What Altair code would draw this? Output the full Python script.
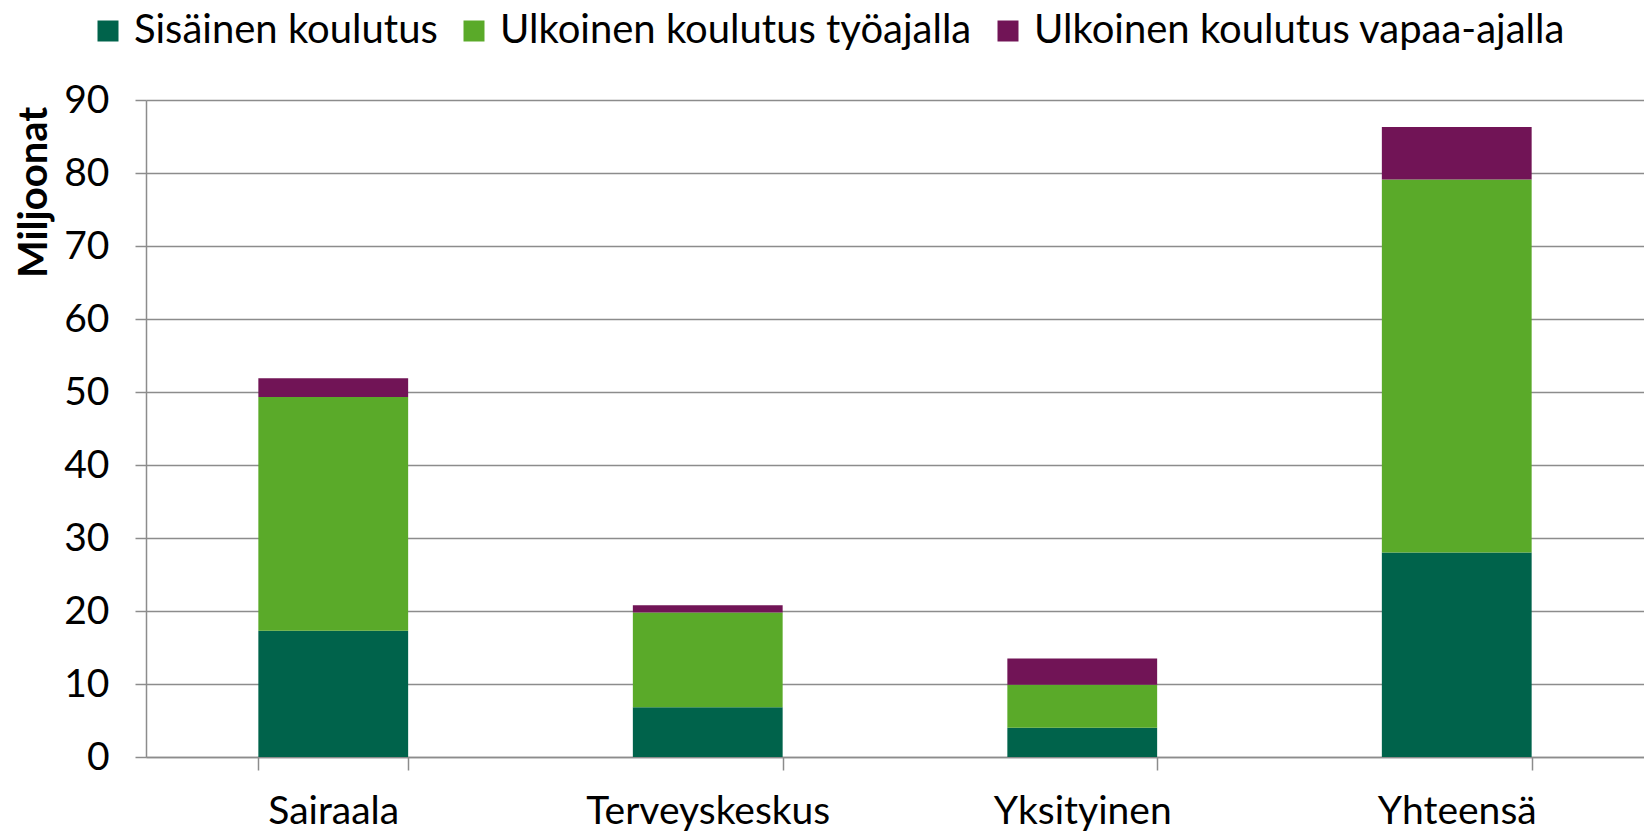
import altair as alt
import pandas as pd

categories = ["Sairaala", "Terveyskeskus", "Yksityinen", "Yhteensä"]
series_names = ["Sisäinen koulutus", "Ulkoinen koulutus työajalla", "Ulkoinen koulutus vapaa-ajalla"]
sisainen = [17.3, 6.8, 4.0, 28.0]
tyoajalla = [32.0, 13.0, 5.9, 51.1]
vapaa_ajalla = [2.6, 1.0, 3.6, 7.2]
colors = ["#00634B", "#5AAA29", "#711456"]
y_ticks = [0, 10, 20, 30, 40, 50, 60, 70, 80, 90]

rows = []
for s_i, (name, vals) in enumerate(zip(series_names, [sisainen, tyoajalla, vapaa_ajalla])):
    for c, v in zip(categories, vals):
        rows.append({"kategoria": c, "sarja": name, "arvo": v, "jarjestys": s_i})
df = pd.DataFrame(rows)

FONT = "Lato"
FS = 39

chart = alt.Chart(df).mark_bar().encode(
    x=alt.X("kategoria:N", sort=categories,
            scale=alt.Scale(paddingInner=0.6, paddingOuter=0.3),
            axis=alt.Axis(title=None, labelAngle=0, tickBand="extent", labelFontSize=FS,
                          labelFont=FONT, labelColor="#000000", labelPadding=22,
                          labelLimit=0,
                          tickSize=13, tickColor="#8c8c8c", tickWidth=1.5,
                          domainColor="#8c8c8c", domainWidth=1.5, grid=False)),
    y=alt.Y("arvo:Q", stack="zero",
            scale=alt.Scale(domain=[0, 90], nice=False),
            axis=alt.Axis(title="Miljoonat", values=y_ticks, labelFontSize=FS, labelFont=FONT,
                          labelColor="#000000", labelPadding=26, tickSize=11,
                          tickColor="#8c8c8c", tickWidth=1.5, domainColor="#8c8c8c",
                          domainWidth=1.5, gridColor="#8c8c8c", gridWidth=1.5,
                          titleFont=FONT, titleFontSize=40, titleFontWeight="bold",
                          titleColor="#000000", titleAngle=270, titleAlign="center",
                          titleBaseline="middle", titleX=-112, titleY=92)),
    color=alt.Color("sarja:N", sort=series_names,
                    scale=alt.Scale(domain=series_names, range=colors),
                    legend=alt.Legend(title=None, orient="none", direction="horizontal",
                                      legendX=-58, legendY=-89, symbolType="square",
                                      symbolSize=441, symbolStrokeWidth=0, symbolOpacity=1,
                                      labelFont=FONT, labelFontSize=40, labelColor="#000000",
                                      labelOffset=6, columnPadding=16, labelLimit=0)),
    order=alt.Order("jarjestys:Q", sort="ascending"),
).properties(
    width=1498, height=657,
    padding={"left": 138, "top": 92, "right": 0, "bottom": 75},
    autosize=alt.AutoSizeParams(type="none"),
).configure_view(stroke=None)

chart.save("out.html", embed_options={"renderer": "svg", "actions": False})
